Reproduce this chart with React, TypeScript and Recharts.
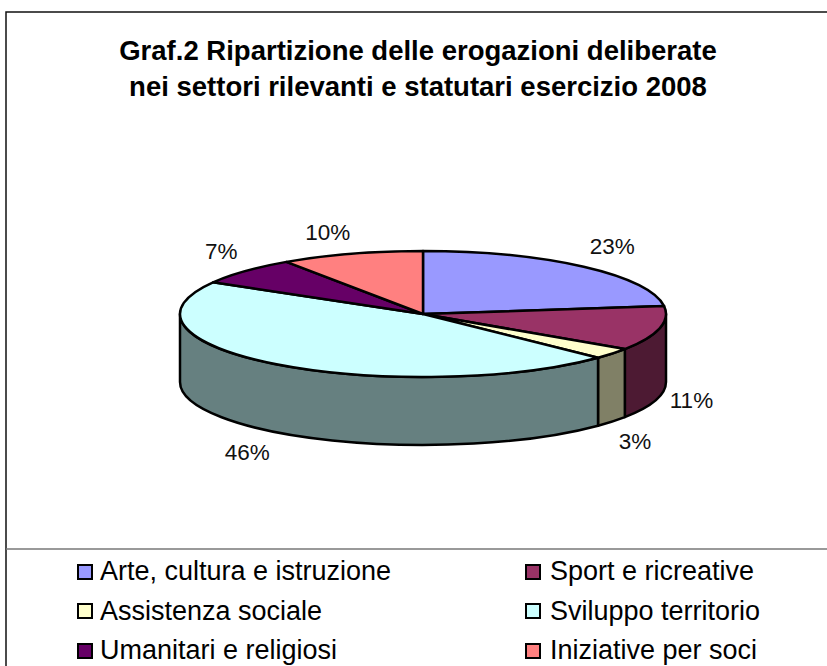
import React from 'react';
import { PieChart, Pie, Legend } from 'recharts';

const categories = [
  'Arte, cultura e istruzione',
  'Sport e ricreative',
  'Assistenza sociale',
  'Sviluppo territorio',
  'Umanitari e religiosi',
  'Iniziative per soci',
];
const shares = [23, 11.4, 2.8, 46.2, 7.1, 9.5];
const topColors = ['#9999FF', '#993366', '#FFFFCC', '#CCFFFF', '#660066', '#FF8080'];
const wallColors = ['#4D4D80', '#4D1A33', '#808066', '#668080', '#330033', '#804040'];
const titleLines = [
  'Graf.2 Ripartizione delle erogazioni deliberate',
  'nei settori rilevanti e statutari esercizio 2008',
];

const FONT = '"Liberation Sans", Arial, sans-serif';
const CX = 423;
const CY = 314;
const RX = 243;
const RY = 63;
const DEPTH = 68;
// hand nudges for the percent labels, the original placed them a bit unevenly
const LABEL_DX = [4, -4, -6, -7, 3, -13];
const LABEL_DY = [-1, -2, 4, 0, -2, 3];

const data = categories.map((name, i) => ({
  name,
  value: shares[i],
  fill: topColors[i],
  wall: wallColors[i],
}));

const rad = (a: number) => (a * Math.PI) / 180;
const px = (a: number) => CX + RX * Math.cos(rad(a));
const py = (a: number) => CY - RY * Math.sin(rad(a));

// recharts hands over plain circular angles, we squash them onto the ellipse
const TopSlice = (props: any) => {
  const { startAngle: a0, endAngle: a1, fill } = props;
  const large = Math.abs(a0 - a1) > 180 ? 1 : 0;
  const d = `M${CX},${CY} L${px(a0)},${py(a0)} A${RX},${RY} 0 ${large} 1 ${px(a1)},${py(a1)} Z`;
  return <path d={d} fill={fill} stroke="#000" strokeWidth={2.5} strokeLinejoin="round" />;
};

const WallSlice = (props: any) => {
  const { startAngle: a0, endAngle: a1, wall } = props;
  // only the front half of the rim is visible
  const s = Math.min(a0, 0);
  const e = Math.max(a1, -180);
  if (s <= e) return null;
  const d =
    `M${px(s)},${py(s)} L${px(s)},${py(s) + DEPTH} ` +
    `A${RX},${RY} 0 0 1 ${px(e)},${py(e) + DEPTH} L${px(e)},${py(e)} ` +
    `A${RX},${RY} 0 0 0 ${px(s)},${py(s)} Z`;
  return <path d={d} fill={wall} stroke="#000" strokeWidth={2.5} strokeLinejoin="round" />;
};

const renderLabel = (props: any) => {
  const a = props.midAngle;
  const i = props.index;
  const x = CX + 280 * Math.cos(rad(a)) + LABEL_DX[i];
  const base = Math.sin(rad(a)) < 0 ? CY + DEPTH : CY;
  const y = base - 88 * Math.sin(rad(a)) + LABEL_DY[i];
  return (
    <text x={x} y={y} textAnchor="middle" dominantBaseline="central" fontFamily={FONT} fontSize={22.5} fill="#111">
      {Math.round(props.value)}%
    </text>
  );
};

const LegendBox = () => (
  <div
    style={{
      display: 'grid',
      gridTemplateColumns: '448px 280px',
      gridAutoRows: '39.5px',
      fontFamily: FONT,
      fontSize: 27,
      color: '#000',
    }}
  >
    {categories.map((name, i) => (
      <div key={name} style={{ display: 'flex', alignItems: 'center', whiteSpace: 'nowrap' }}>
        <span
          style={{
            width: 12,
            height: 12,
            marginRight: i % 2 ? 9 : 7,
            background: topColors[i],
            border: '2px solid #000',
          }}
        />
        {name}
      </div>
    ))}
  </div>
);

export default function App() {
  return (
    <div style={{ position: 'absolute', left: 0, top: 0, width: 827, height: 666, overflow: 'hidden', background: '#fff' }}>
      <PieChart width={827} height={666} margin={{ top: 0, right: 0, bottom: 0, left: 0 }}>
        <path d="M6,666 L6,12 L827,12" fill="none" stroke="#111" strokeWidth={1.5} />
        <path d="M6,549 L827,549" fill="none" stroke="#777" strokeWidth={1.5} />
        {titleLines.map((line, i) => (
          <text key={line} x={418} y={50 + i * 36} textAnchor="middle" dominantBaseline="central" fontFamily={FONT} fontWeight="bold" fontSize={27.5} fill="#000">
            {line}
          </text>
        ))}
        <Pie
          data={data}
          dataKey="value"
          nameKey="name"
          cx={CX}
          cy={CY}
          outerRadius={RX}
          startAngle={90}
          endAngle={-270}
          paddingAngle={0}
          shape={WallSlice}
          legendType="none"
          isAnimationActive={false}
        />
        <Pie
          data={data}
          dataKey="value"
          nameKey="name"
          cx={CX}
          cy={CY}
          outerRadius={RX}
          startAngle={90}
          endAngle={-270}
          paddingAngle={0}
          shape={TopSlice}
          label={renderLabel}
          labelLine={false}
          isAnimationActive={false}
        />
        <Legend
          content={<LegendBox />}
          layout="vertical"
          verticalAlign="top"
          align="left"
          wrapperStyle={{ left: 77, top: 552, width: 740 }}
        />
      </PieChart>
    </div>
  );
}
